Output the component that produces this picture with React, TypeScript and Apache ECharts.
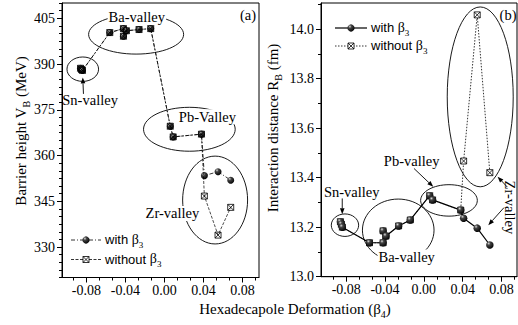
import React, { useEffect, useRef } from 'react';
import * as echarts from 'echarts';

// β4 values of the fragment combinations (shared by both panels)
const beta4 = [-0.086, -0.085, -0.084, -0.056, -0.042, -0.042, -0.039, -0.026, -0.014, 0.006, 0.009, 0.038, 0.041, 0.055, 0.068];
// Barrier height V_B (MeV)
const vbWith = [388.6, 388.2, 387.9, 400.3, 401.6, 399.1, 400.9, 401.3, 401.6, 369.6, 366.1, 367.0, 353.4, 354.7, 351.9];
const vbWithout = [388.6, 388.2, 387.9, 400.3, 401.6, 399.1, 400.9, 401.3, 401.6, 369.6, 366.1, 367.0, 346.7, 333.9, 343.0];
// Interaction distance R_B (fm)
const rbWith = [13.222, 13.212, 13.2, 13.137, 13.137, 13.185, 13.164, 13.205, 13.229, 13.327, 13.31, 13.269, 13.236, 13.196, 13.128];
const rbWithout = [13.222, 13.212, 13.2, 13.137, 13.137, 13.185, 13.164, 13.205, 13.229, 13.327, 13.31, 13.269, 13.467, 14.057, 13.42];

// tick labels
const vbTicks = [330, 345, 360, 375, 390, 405];
const rbTicks = [13.0, 13.2, 13.4, 13.6, 13.8, 14.0];
const b4Ticks = [-0.08, -0.04, 0.0, 0.04, 0.08];

// annotations (data coordinates)
const leftEllipses = [
  { x: -0.0837, y: 388.3, rx: 0.0162, ry: 4.0 },
  { x: -0.029, y: 399.7, rx: 0.0487, ry: 6.45 },
  { x: 0.0256, y: 368.6, rx: 0.047, ry: 7.2 },
  { x: 0.052, y: 345.4, rx: 0.0333, ry: 14.4 },
];
const leftLabels = [
  { t: 'Sn-valley', x: -0.0762, y: 378.1, bg: false, rot: 0 },
  { t: 'Ba-valley', x: -0.0283, y: 405.5, bg: true, rot: 0 },
  { t: 'Pb-Valley', x: 0.0441, y: 372.7, bg: true, rot: 0 },
  { t: 'Zr-valley', x: 0.0082, y: 341.0, bg: true, rot: 0 },
];
const leftArrows = [{ from: [-0.083, 380.2], to: [-0.0837, 385.6] }];

const rightEllipses = [
  { x: -0.0813, y: 13.208, rx: 0.0141, ry: 0.0454 },
  { x: -0.0264, y: 13.188, rx: 0.0369, ry: 0.1254 },
  { x: 0.0259, y: 13.308, rx: 0.0292, ry: 0.0635 },
  { x: 0.0581, y: 13.726, rx: 0.034, ry: 0.363 },
];
const rightLabels = [
  { t: 'Sn-valley', x: -0.0744, y: 13.342, bg: false, rot: 0 },
  { t: 'Ba-valley', x: -0.0177, y: 13.08, bg: true, rot: 0 },
  { t: 'Pb-valley', x: -0.0126, y: 13.469, bg: false, rot: 0 },
  { t: 'Zr-valley', x: 0.0893, y: 13.28, bg: false, rot: -90 },
];
const rightArrows = [
  { from: [-0.0841, 13.316], to: [-0.0841, 13.252] },
  { from: [-0.0102, 13.437], to: [0.0097, 13.363] },
  { from: [0.086, 13.362], to: [0.076, 13.404] },
  { from: [0.0826, 13.279], to: [0.0664, 13.208] },
];

const SERIF = "'Liberation Serif', 'Times New Roman', serif";
const SANS = "'Liberation Sans', Arial, sans-serif";
const SQUARE_X = 'path://M0,0H10V10H0Z M0,0L10,10 M10,0L0,10';

const sphere = () =>
  new echarts.graphic.RadialGradient(0.35, 0.3, 0.75, [
    { offset: 0, color: '#d8d8d8' },
    { offset: 0.3, color: '#444' },
    { offset: 1, color: '#000' },
  ]);

function minors(majors: number[], parts: number, lo: number, hi: number) {
  const step = (majors[1] - majors[0]) / parts;
  const out: number[] = [];
  for (let k = -60; k <= 60; k++) {
    if (k % parts === 0) continue;
    const v = +(majors[0] + k * step).toFixed(6);
    if (v >= lo - 1e-9 && v <= hi + 1e-9) out.push(v);
  }
  return out;
}

const LX = [-0.105, 0.097];
const RX = [-0.106, 0.096];
const LY = [320, 410];
const RY = [13.0, 14.105];

const tickLabel = { color: '#000', fontFamily: SERIF, fontSize: 14 };

function xAxes(grid: number, ext: number[]) {
  return [
    {
      gridIndex: grid, type: 'value', min: ext[0], max: ext[1], position: 'bottom',
      axisLine: { show: true, onZero: false, lineStyle: { color: '#000', width: 1 } },
      splitLine: { show: false },
      axisTick: { show: true, length: 5, lineStyle: { color: '#000', width: 1 }, customValues: b4Ticks },
      axisLabel: { ...tickLabel, margin: 6, customValues: b4Ticks, formatter: (v: number) => v.toFixed(2) },
    },
    {
      gridIndex: grid, type: 'value', min: ext[0], max: ext[1], position: 'bottom',
      axisLine: { show: false, onZero: false }, splitLine: { show: false },
      axisTick: { show: true, length: 3, lineStyle: { color: '#000', width: 1 }, customValues: minors(b4Ticks, 3, ext[0], ext[1]) },
      axisLabel: { show: false },
    },
  ];
}

function yAxes(grid: number, ext: number[], ticks: number[], parts: number, fmt: (v: number) => string) {
  return [
    {
      gridIndex: grid, type: 'value', min: ext[0], max: ext[1], position: 'left',
      axisLine: { show: true, onZero: false, lineStyle: { color: '#000', width: 1 } },
      splitLine: { show: false },
      axisTick: { show: true, length: 5, lineStyle: { color: '#000', width: 1 }, customValues: ticks },
      axisLabel: { ...tickLabel, margin: 7, customValues: ticks, formatter: fmt },
    },
    {
      gridIndex: grid, type: 'value', min: ext[0], max: ext[1], position: 'left',
      axisLine: { show: false, onZero: false }, splitLine: { show: false },
      axisTick: { show: true, length: 3, lineStyle: { color: '#000', width: 1 }, customValues: minors(ticks, parts, ext[0], ext[1]) },
      axisLabel: { show: false },
    },
  ];
}

function buildOption() {
  const pts = (ys: number[]) => beta4.map((x, i) => [x, ys[i]]);
  return {
    animation: false,
    backgroundColor: '#fff',
    grid: [
      { left: 62, top: 3, width: 197, height: 274.5, show: true, borderColor: '#000', borderWidth: 1, backgroundColor: 'transparent' },
      { left: 321, top: 3, width: 196, height: 273.7, show: true, borderColor: '#000', borderWidth: 1, backgroundColor: 'transparent' },
    ],
    xAxis: [...xAxes(0, LX), ...xAxes(1, RX)],
    yAxis: [
      ...yAxes(0, LY, vbTicks, 6, (v: number) => String(Math.round(v))),
      ...yAxes(1, RY, rbTicks, 2, (v: number) => v.toFixed(1)),
    ],
    series: [
      {
        name: 'with β3', type: 'line', xAxisIndex: 0, yAxisIndex: 0, data: pts(vbWith), silent: true,
        symbol: 'circle', symbolSize: 7, itemStyle: { color: sphere() },
        lineStyle: { color: '#000', width: 0.8, type: [4, 2, 1, 2] }, z: 3,
      },
      {
        name: 'without β3', type: 'line', xAxisIndex: 0, yAxisIndex: 0, data: pts(vbWithout), silent: true,
        symbol: SQUARE_X, symbolSize: 6, itemStyle: { color: 'rgba(255,255,255,0)', borderColor: '#000', borderWidth: 0.8 },
        lineStyle: { color: '#000', width: 0.7, type: [3, 1.5] }, z: 4,
      },
      {
        name: 'without β3', type: 'line', xAxisIndex: 2, yAxisIndex: 2, data: pts(rbWithout), silent: true,
        symbol: SQUARE_X, symbolSize: 6, itemStyle: { color: '#fff', borderColor: '#000', borderWidth: 0.8 },
        lineStyle: { color: '#000', width: 0.8, type: [1.5, 1.5] }, z: 3,
      },
      {
        name: 'with β3', type: 'line', xAxisIndex: 2, yAxisIndex: 2, data: pts(rbWith), silent: true,
        symbol: 'circle', symbolSize: 7.5, itemStyle: { color: sphere() },
        lineStyle: { color: '#000', width: 1.2, type: 'solid' }, z: 4,
      },
    ],
  };
}

const mainRich = (size: number, family: string) => ({ fontSize: size, fontFamily: family, lineHeight: size + 2, padding: [0, 0, 3, 0], verticalAlign: 'bottom', color: '#000' });
const subRich = (size: number) => ({ fontSize: size, fontFamily: SERIF, lineHeight: size, verticalAlign: 'bottom', color: '#000' });

function buildGraphic(chart: any) {
  const L = { xAxisIndex: 0, yAxisIndex: 0 };
  const R = { xAxisIndex: 2, yAxisIndex: 2 };
  const px = (f: any, x: number, y: number) => chart.convertToPixel(f, [x, y]) as number[];
  const els: any[] = [];

  const addEllipse = (f: any, e: any) => {
    const c = px(f, e.x, e.y);
    const a = px(f, e.x + e.rx, e.y + e.ry);
    els.push({ type: 'ellipse', silent: true, z: 10, shape: { cx: c[0], cy: c[1], rx: Math.abs(a[0] - c[0]), ry: Math.abs(a[1] - c[1]) }, style: { fill: 'none', stroke: '#000', lineWidth: 0.9 } });
  };
  const addLabel = (f: any, l: any) => {
    const c = px(f, l.x, l.y);
    els.push({
      type: 'text', silent: true, z: 11, x: c[0], y: c[1], rotation: (l.rot * Math.PI) / 180,
      style: { text: l.t, fontFamily: SERIF, fontSize: 14.5, fill: '#000', align: 'center', verticalAlign: 'middle', backgroundColor: l.bg ? '#fff' : 'transparent', padding: [0, 1] },
    });
  };
  const addArrow = (f: any, a: any) => {
    const p1 = px(f, a.from[0], a.from[1]);
    const p2 = px(f, a.to[0], a.to[1]);
    const dx = p2[0] - p1[0], dy = p2[1] - p1[1];
    const len = Math.hypot(dx, dy) || 1;
    const ux = dx / len, uy = dy / len;
    const hl = 6, hw = 2.3;
    const bx = p2[0] - ux * hl, by = p2[1] - uy * hl;
    els.push({ type: 'line', silent: true, z: 10, shape: { x1: p1[0], y1: p1[1], x2: bx, y2: by }, style: { stroke: '#000', lineWidth: 0.9 } });
    els.push({ type: 'polygon', silent: true, z: 10, shape: { points: [[p2[0], p2[1]], [bx - uy * hw, by + ux * hw], [bx + uy * hw, by - ux * hw]] }, style: { fill: '#000' } });
  };

  leftEllipses.forEach((e) => addEllipse(L, e));
  rightEllipses.forEach((e) => addEllipse(R, e));
  leftArrows.forEach((a) => addArrow(L, a));
  rightArrows.forEach((a) => addArrow(R, a));
  leftLabels.forEach((l) => addLabel(L, l));
  rightLabels.forEach((l) => addLabel(R, l));

  // panel tags
  els.push({ type: 'text', silent: true, z: 11, x: 248, y: 15, style: { text: '(a)', fontFamily: SERIF, fontSize: 14.5, fill: '#000', align: 'center', verticalAlign: 'middle' } });
  els.push({ type: 'text', silent: true, z: 11, x: 508, y: 15, style: { text: '(b)', fontFamily: SERIF, fontSize: 14.5, fill: '#000', align: 'center', verticalAlign: 'middle' } });

  // legends
  const legendItem = (x1: number, x2: number, y: number, kind: string, dash: any, lw: number, word: string) => {
    els.push({ type: 'line', silent: true, z: 10, shape: { x1, y1: y, x2, y2: y }, style: { stroke: '#000', lineWidth: lw, lineDash: dash } });
    const mx = (x1 + x2) / 2;
    if (kind === 'sphere') {
      els.push({ type: 'circle', silent: true, z: 11, shape: { cx: mx, cy: y, r: 3.6 }, style: { fill: sphere() } });
    } else {
      els.push({ type: 'rect', silent: true, z: 11, shape: { x: mx - 3, y: y - 3, width: 6, height: 6 }, style: { fill: '#fff', stroke: '#000', lineWidth: 0.8 } });
      els.push({ type: 'line', silent: true, z: 12, shape: { x1: mx - 3, y1: y - 3, x2: mx + 3, y2: y + 3 }, style: { stroke: '#000', lineWidth: 0.8 } });
      els.push({ type: 'line', silent: true, z: 12, shape: { x1: mx + 3, y1: y - 3, x2: mx - 3, y2: y + 3 }, style: { stroke: '#000', lineWidth: 0.8 } });
    }
    els.push({
      type: 'text', silent: true, z: 11, x: x2 + 4, y: y + 1,
      style: {
        text: `{a|${word} }{b|β}{s|3}`, align: 'left', verticalAlign: 'middle',
        rich: { a: mainRich(13, SANS), b: mainRich(14, SERIF), s: subRich(9) },
      },
    });
  };
  legendItem(71, 101, 240, 'sphere', [4, 2, 1, 2], 0.8, 'with');
  legendItem(71, 101, 259.5, 'square', [3, 1.5], 0.8, 'without');
  legendItem(335, 367, 28, 'sphere', null, 1.2, 'with');
  legendItem(335, 367, 46, 'square', [1.5, 1.5], 0.8, 'without');

  // axis titles
  const title = (x: number, y: number, rot: number, parts: string) => {
    els.push({
      type: 'text', silent: true, z: 11, x, y, rotation: rot,
      style: { text: parts, align: 'center', verticalAlign: 'middle', rich: { a: mainRich(15, SERIF), s: subRich(10) } },
    });
  };
  title(23, 131, Math.PI / 2, '{a|Barrier height V}{s|B}{a| (MeV)}');
  title(275, 128, Math.PI / 2, '{a|Interaction distance R}{s|B}{a| (fm)}');
  title(295, 311, 0, '{a|Hexadecapole Deformation (β}{s|4}{a|)}');

  return els;
}

export default function App() {
  const ref = useRef<HTMLDivElement>(null);
  useEffect(() => {
    const el = ref.current;
    if (!el) return;
    const chart = echarts.init(el, null, { renderer: 'svg' });
    chart.setOption(buildOption() as any);
    chart.setOption({ graphic: buildGraphic(chart) } as any);
    return () => chart.dispose();
  }, []);
  return <div ref={ref} style={{ position: 'fixed', left: 0, top: 0, width: 518, height: 325, background: '#fff' }} />;
}
